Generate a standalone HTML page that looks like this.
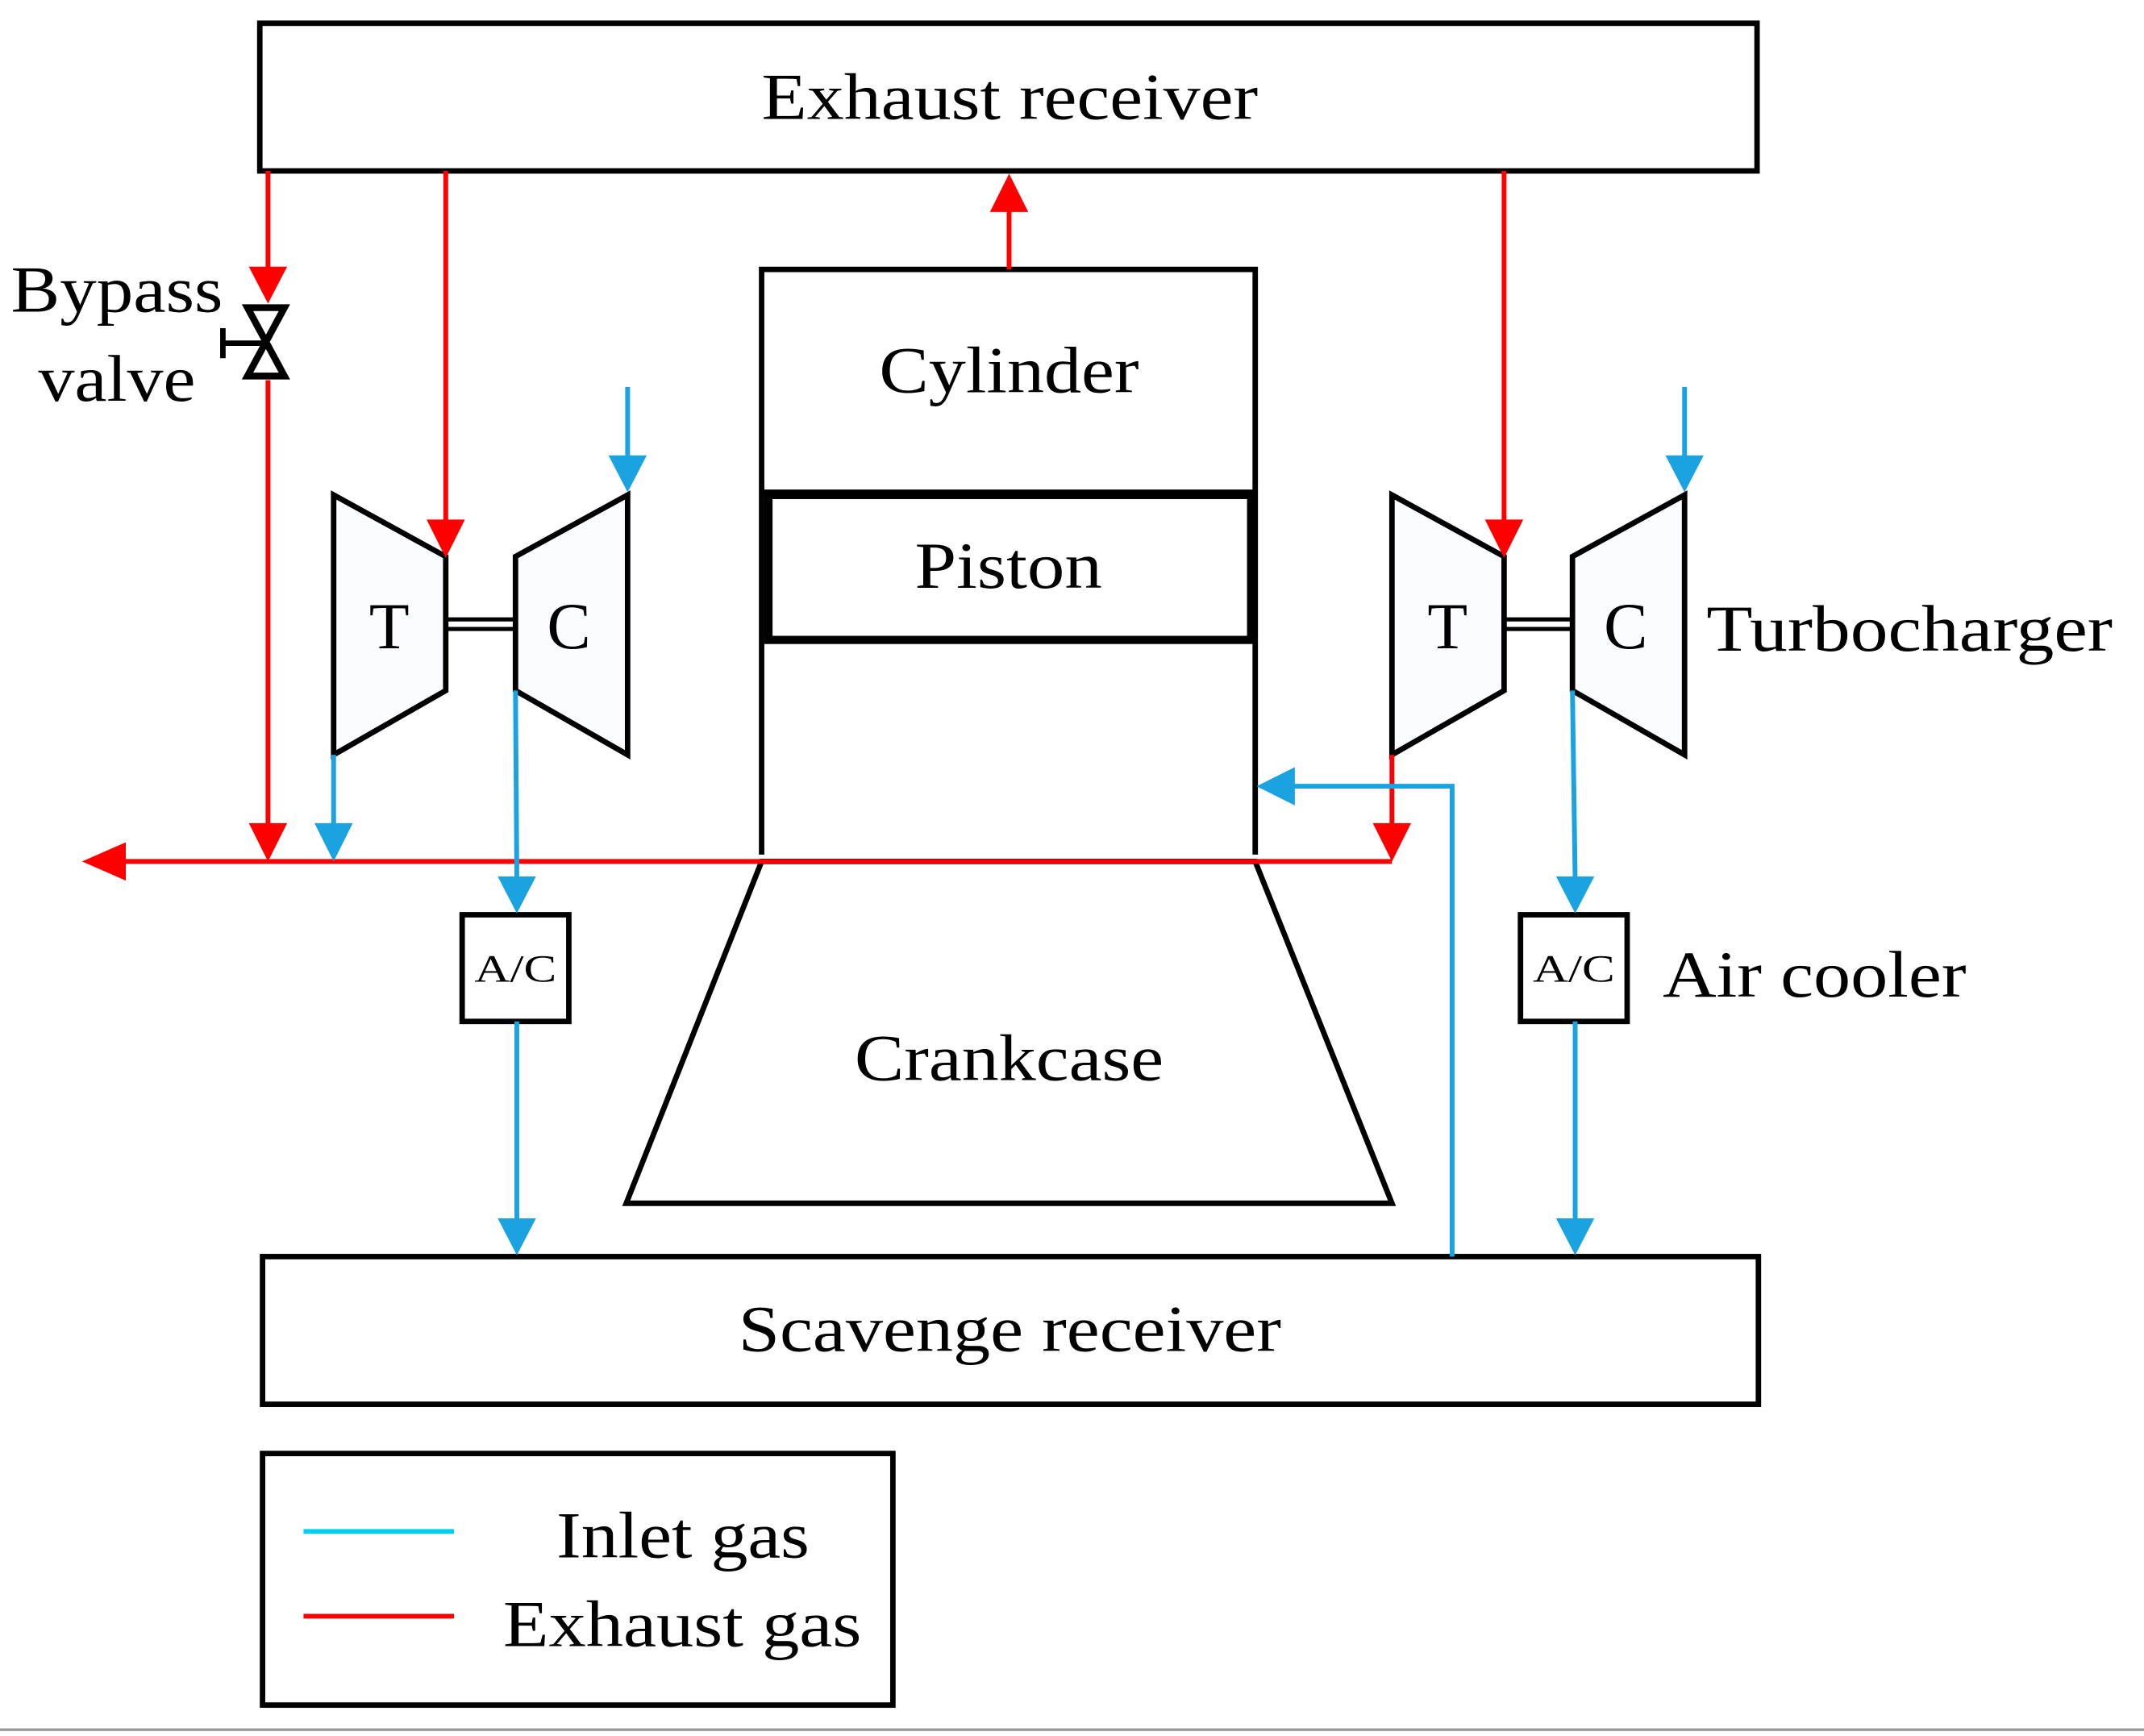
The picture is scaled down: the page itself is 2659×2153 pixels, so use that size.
<!DOCTYPE html>
<html><head><meta charset="utf-8"><style>html,body{margin:0;padding:0;background:#fff}svg{display:block}</style></head>
<body>
<svg width="2659" height="2153" viewBox="0 0 1568 1269.6" xmlns="http://www.w3.org/2000/svg" font-family="Liberation Serif, serif">
<g fill="none" stroke="#000" stroke-width="4">
<rect x="190" y="17" width="1095" height="108"/>
<rect x="192" y="919" width="1094" height="108"/>
<rect x="192" y="1063" width="461" height="184"/>
<path d="M557,625 L557,197 L918,197 L918,625"/>
<line x1="557" y1="360" x2="918" y2="360"/>
<rect x="562" y="362" width="353" height="106" stroke-width="6"/>
<path d="M557,630 L918,630 L1018,880 L458,880 Z"/>
<path d="M244,362 L326,407 L326,505 L244,552 Z" fill="#fafcff"/>
<path d="M377,407 L459,362 L459,552 L377,505 Z" fill="#fafcff"/>
<path d="M1018,362 L1100,407 L1100,505 L1018,552 Z" fill="#fafcff"/>
<path d="M1150,407 L1232,362 L1232,552 L1150,505 Z" fill="#fafcff"/>
<line x1="326" y1="453" x2="377" y2="453" stroke-width="3"/><line x1="326" y1="460" x2="377" y2="460" stroke-width="3"/>
<line x1="1100" y1="453" x2="1150" y2="453" stroke-width="3"/><line x1="1100" y1="460" x2="1150" y2="460" stroke-width="3"/>
<rect x="338" y="669" width="78" height="78"/>
<rect x="1112" y="669" width="78" height="78"/>
<path d="M181,225 L208,225 L181,275 L208,275 Z" stroke-width="5" fill="#fff"/>
<path d="M163,240 L163,262 M163,251 L195,251" stroke-width="4"/>
</g>
<g stroke="#f00" stroke-width="3.5" fill="none">
<line x1="196" y1="125" x2="196" y2="200"/>
<line x1="196" y1="278" x2="196" y2="610"/>
<line x1="326" y1="125" x2="326" y2="385"/>
<line x1="1100" y1="125" x2="1100" y2="385"/>
<line x1="738" y1="197" x2="738" y2="150"/>
<line x1="1018" y1="552" x2="1018" y2="610"/>
<line x1="85" y1="630" x2="1018" y2="630"/>
<line x1="222" y1="1182" x2="332" y2="1182"/>
</g>
<g fill="#f00">
<path d="M182,195 L210,195 L196,222 Z"/>
<path d="M182,602 L210,602 L196,630 Z"/>
<path d="M312,380 L340,380 L326,408 Z"/>
<path d="M1086,380 L1114,380 L1100,408 Z"/>
<path d="M1004,602 L1032,602 L1018,630 Z"/>
<path d="M724,155 L752,155 L738,127 Z"/>
<path d="M92,616 L92,644 L60,630 Z"/>
</g>
<g stroke="#1aa3e0" stroke-width="3.5" fill="none">
<line x1="459" y1="283" x2="459" y2="338"/>
<line x1="1232" y1="283" x2="1232" y2="338"/>
<line x1="244" y1="552" x2="244" y2="605"/>
<line x1="377" y1="505" x2="378" y2="645"/>
<line x1="378" y1="747" x2="378" y2="895"/>
<line x1="1150" y1="505" x2="1152" y2="645"/>
<line x1="1152" y1="747" x2="1152" y2="895"/>
<path d="M1062,919 L1062,575 L945,575"/>
</g>
<line x1="222" y1="1120" x2="332" y2="1120" stroke="#00d0ee" stroke-width="3.5"/>
<g fill="#1aa3e0">
<path d="M445,333 L473,333 L459,360 Z"/>
<path d="M1218,333 L1246,333 L1232,360 Z"/>
<path d="M230,602 L258,602 L244,630 Z"/>
<path d="M364,641 L392,641 L378,668 Z"/>
<path d="M364,891 L392,891 L378,918 Z"/>
<path d="M1138,641 L1166,641 L1152,668 Z"/>
<path d="M1138,891 L1166,891 L1152,918 Z"/>
<path d="M947,561 L947,589 L919,575 Z"/>
</g>
<line x1="0" y1="1265" x2="1568" y2="1265" stroke="#999" stroke-width="2"/>
<g fill="#000" font-size="48" lengthAdjust="spacingAndGlyphs">
<text x="557" y="87" textLength="363" lengthAdjust="spacingAndGlyphs">Exhaust receiver</text>
<text x="643" y="287" textLength="190" lengthAdjust="spacingAndGlyphs">Cylinder</text>
<text x="669" y="430" textLength="137" lengthAdjust="spacingAndGlyphs">Piston</text>
<text x="625" y="790" textLength="226" lengthAdjust="spacingAndGlyphs">Crankcase</text>
<text x="540" y="988" textLength="397" lengthAdjust="spacingAndGlyphs">Scavenge receiver</text>
<text x="270" y="474">T</text>
<text x="400" y="474">C</text>
<text x="1044" y="474">T</text>
<text x="1173" y="474">C</text>
<text x="347" y="718" font-size="28" textLength="60" lengthAdjust="spacingAndGlyphs">A/C</text>
<text x="1121" y="718" font-size="28" textLength="60" lengthAdjust="spacingAndGlyphs">A/C</text>
<text x="8" y="228" textLength="155" lengthAdjust="spacingAndGlyphs">Bypass</text>
<text x="28" y="293" textLength="115" lengthAdjust="spacingAndGlyphs">valve</text>
<text x="1248" y="476" textLength="297" lengthAdjust="spacingAndGlyphs">Turbocharger</text>
<text x="1216" y="729" textLength="222" lengthAdjust="spacingAndGlyphs">Air cooler</text>
<text x="407" y="1139" textLength="185" lengthAdjust="spacingAndGlyphs">Inlet gas</text>
<text x="368" y="1204" textLength="262" lengthAdjust="spacingAndGlyphs">Exhaust gas</text>
</g>
</svg>
</body></html>
